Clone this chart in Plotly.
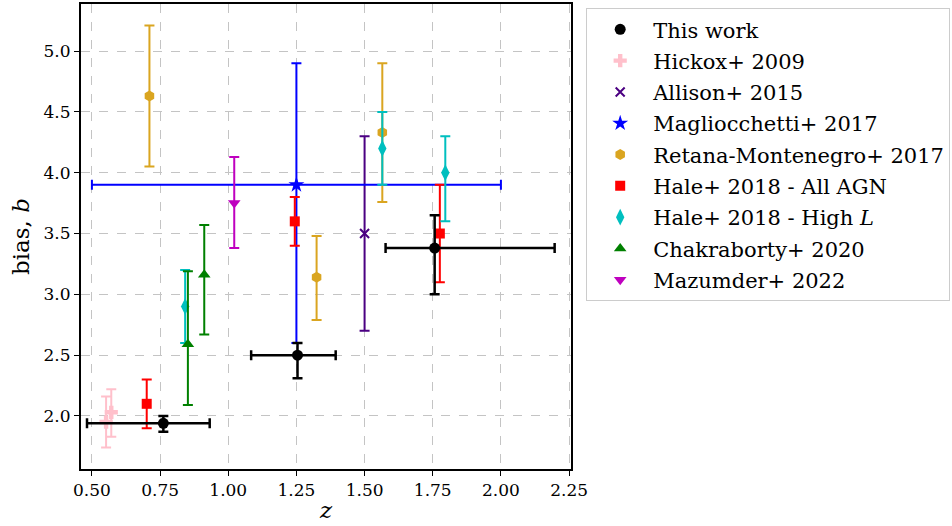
import plotly.graph_objects as go

# ---------------- data ----------------
tw_z = [0.762, 1.254, 1.757]
tw_b = [1.94, 2.50, 3.38]
tw_b_lo = [0.07, 0.19, 0.38]
tw_b_hi = [0.06, 0.10, 0.27]
tw_z_lo = [0.28, 0.17, 0.18]
tw_z_hi = [0.17, 0.14, 0.44]

hk_z = [0.552, 0.571]
hk_b = [1.95, 2.03]
hk_b_lo = [0.21, 0.20]
hk_b_hi = [0.21, 0.19]

al_z = [1.50]
al_b = [3.50]
al_b_lo = [0.80]
al_b_hi = [0.80]

mg_z = [1.25]
mg_b = [3.90]
mg_b_lo = [1.30]
mg_b_hi = [1.00]
mg_z_lo = [0.75]
mg_z_hi = [0.75]

rm_z = [0.711, 1.324, 1.565]
rm_b = [4.63, 3.14, 4.33]
rm_b_lo = [0.58, 0.35, 0.57]
rm_b_hi = [0.58, 0.34, 0.57]

ha_z = [0.701, 1.244, 1.776]
ha_b = [2.10, 3.60, 3.50]
ha_b_lo = [0.20, 0.20, 0.40]
ha_b_hi = [0.20, 0.20, 0.40]

hl_z = [0.842, 1.565, 1.796]
hl_b = [2.90, 4.20, 4.00]
hl_b_lo = [0.30, 0.30, 0.40]
hl_b_hi = [0.30, 0.30, 0.30]

ch_z = [0.852, 0.912]
ch_b = [2.59, 3.16]
ch_b_lo = [0.50, 0.49]
ch_b_hi = [0.60, 0.41]

mz_z = [1.022]
mz_b = [3.75]
mz_b_lo = [0.37]
mz_b_hi = [0.38]

x_ticks = [0.50, 0.75, 1.00, 1.25, 1.50, 1.75, 2.00, 2.25]
y_ticks = [2.0, 2.5, 3.0, 3.5, 4.0, 4.5, 5.0]

FONT = "DejaVu Serif"

fig = go.Figure()


def add(name, x, y, ylo, yhi, color, symbol, size, rank, xlo=None, xhi=None, thick=2, line=None):
    ex = dict(visible=False)
    if xlo is not None:
        ex = dict(type="data", symmetric=False, array=xhi, arrayminus=xlo,
                  color=color, thickness=thick, width=5)
    marker = dict(color=color, symbol=symbol, size=size)
    if line is not None:
        marker["line"] = line
    else:
        marker["line"] = dict(width=0)
    fig.add_trace(go.Scatter(
        x=x, y=y, mode="markers", name=name, legendrank=rank, legendgroup=name,
        marker=marker,
        error_y=dict(type="data", symmetric=False, array=yhi, arrayminus=ylo,
                     color=color, thickness=thick, width=5),
        error_x=ex,
    ))


add("Hickox+ 2009", hk_z, hk_b, hk_b_lo, hk_b_hi, "#FFC0CB", "cross", 11, 2)
add("Allison+ 2015", al_z, al_b, al_b_lo, al_b_hi, "#4B0082", "x-thin", 9, 3,
    line=dict(color="#4B0082", width=2))
add("Magliocchetti+ 2017", mg_z, mg_b, mg_b_lo, mg_b_hi, "#0000FF", "star", 12, 4,
    xlo=mg_z_lo, xhi=mg_z_hi)
add("Retana-Montenegro+ 2017", rm_z, rm_b, rm_b_lo, rm_b_hi, "#DAA520", "hexagon", 11, 5)
add("Hale+ 2018 - All AGN", ha_z, ha_b, ha_b_lo, ha_b_hi, "#FF0000", "square", 10, 6)
add("Hale+ 2018 - High <i>L</i>", hl_z, hl_b, hl_b_lo, hl_b_hi, "#00BFBF", "diamond-tall", 12, 7)
add("Chakraborty+ 2020", ch_z, ch_b, ch_b_lo, ch_b_hi, "#008000", "triangle-up", 11, 8)
add("Mazumder+ 2022", mz_z, mz_b, mz_b_lo, mz_b_hi, "#BF00BF", "triangle-down", 11, 9)
add("This work", tw_z, tw_b, tw_b_lo, tw_b_hi, "#000000", "circle", 11, 1,
    xlo=tw_z_lo, xhi=tw_z_hi, thick=2.5)

axis_common = dict(
    showline=True, linecolor="black", linewidth=2, mirror=True,
    ticks="outside", ticklen=5, tickwidth=1.2, tickcolor="black",
    showgrid=True, gridcolor="#c4c4c4", gridwidth=1, griddash="dash",
    zeroline=False, tickfont=dict(family=FONT, size=17, color="black"),
)

fig.update_layout(
    width=952, height=526,
    margin=dict(l=81, r=380, t=2, b=57),
    paper_bgcolor="white", plot_bgcolor="white",
    font=dict(family=FONT, color="black"),
    xaxis=dict(range=[0.46, 2.257], tickvals=x_ticks,
               ticktext=[f"{v:.2f}" for v in x_ticks],
               title=dict(text="<i>z</i>", font=dict(family=FONT, size=23), standoff=2),
               **axis_common),
    yaxis=dict(range=[1.564, 5.387], tickvals=y_ticks,
               ticktext=[f"{v:.1f}" for v in y_ticks],
               title=dict(text="bias, <i>b</i>", font=dict(family=FONT, size=23), standoff=8),
               **axis_common),
    legend=dict(x=1.031, xanchor="left", y=0.991, yanchor="top",
                bordercolor="#cccccc", borderwidth=1, bgcolor="white",
                font=dict(family=FONT, size=21, color="black"),
                traceorder="grouped", tracegroupgap=1, itemwidth=56),
    showlegend=True,
)

fig.write_html("out.html")
